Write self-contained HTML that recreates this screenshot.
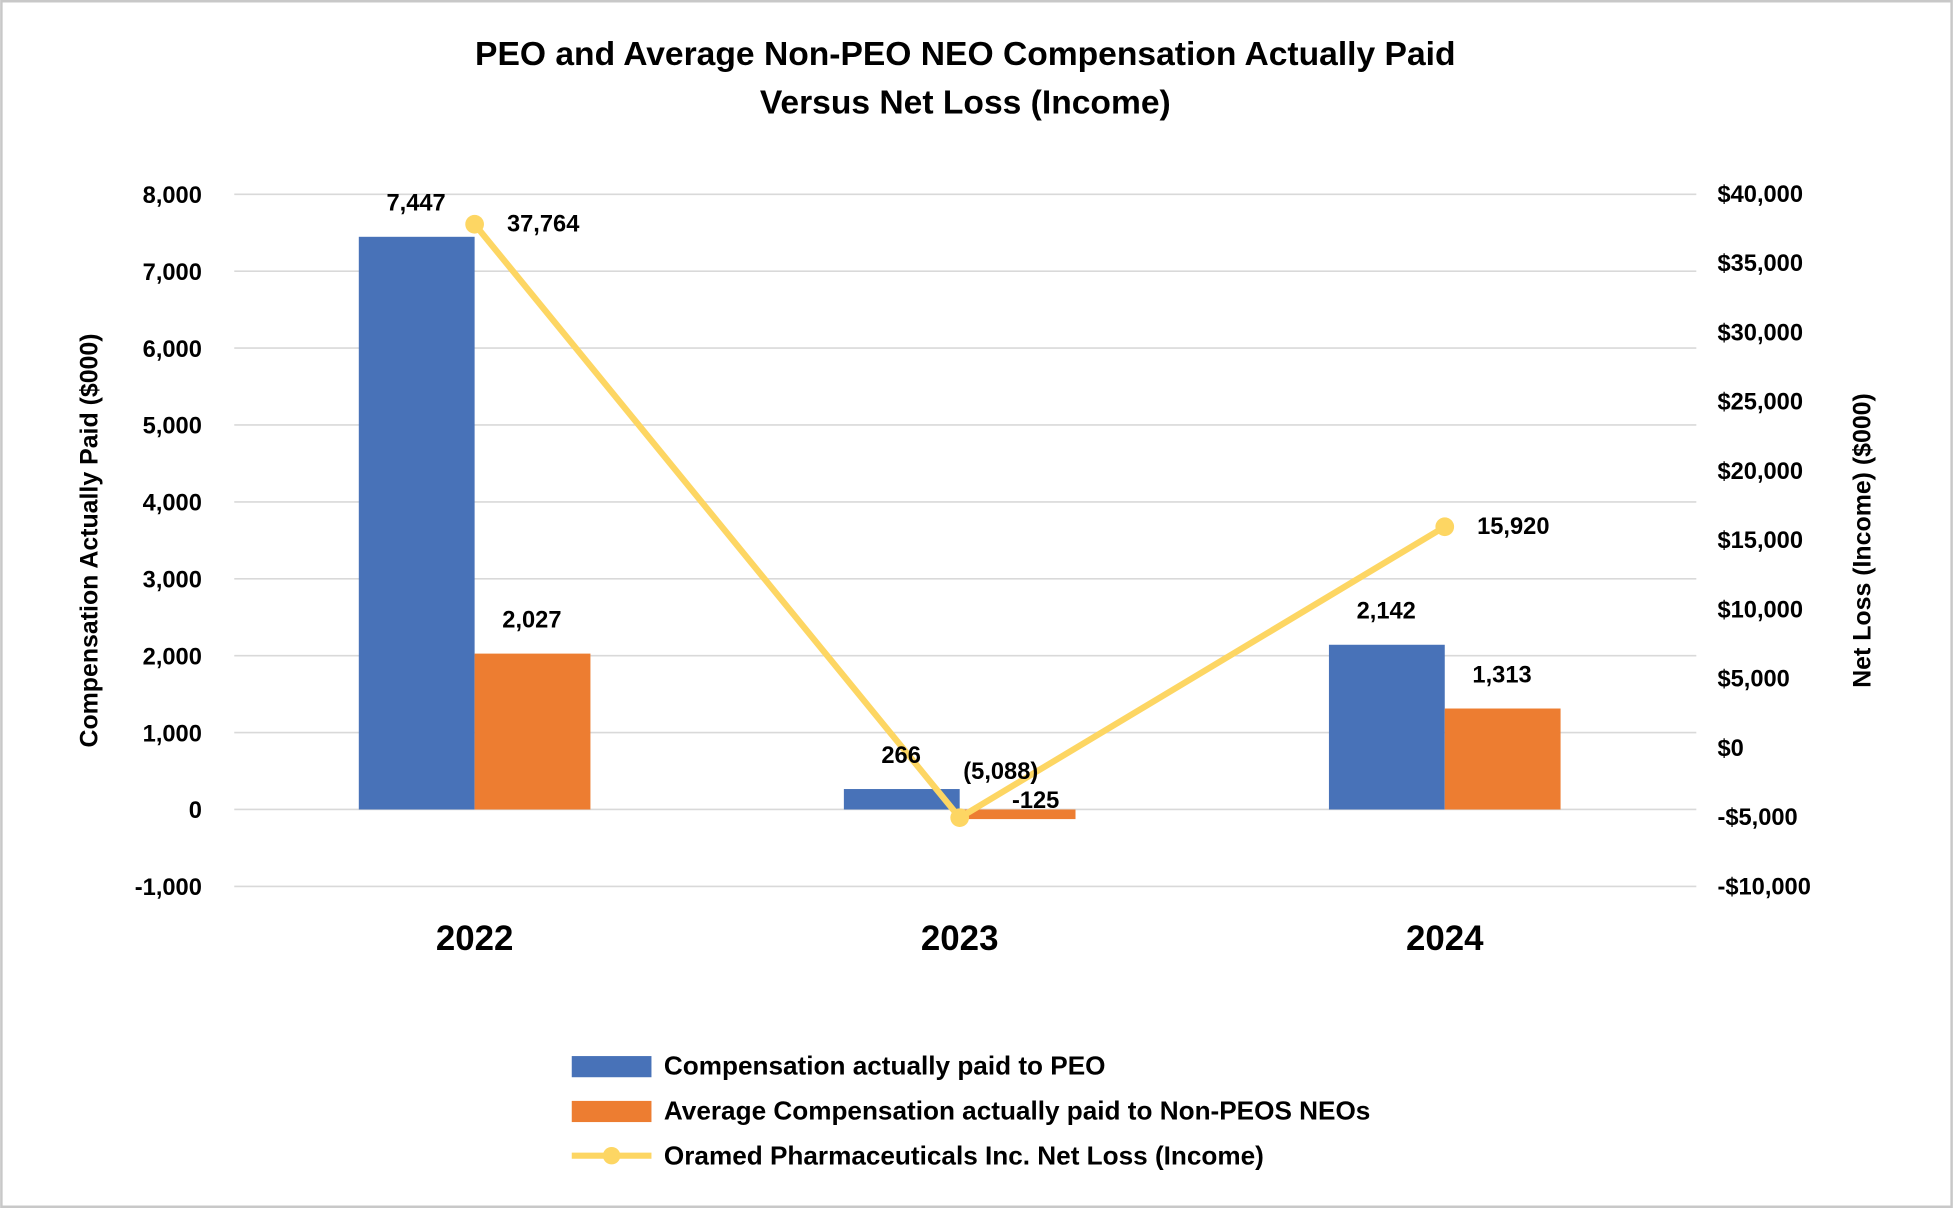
<!DOCTYPE html>
<html><head><meta charset="utf-8"><style>
html,body{margin:0;padding:0;background:#fff}
svg{display:block}
text{font-family:"Liberation Sans",sans-serif;fill:#000}
</style></head><body>
<svg width="1953" height="1208" viewBox="0 0 1568 970">
<rect x="1" y="1" width="1566" height="968" fill="#fff" stroke="#c8c8c8" stroke-width="2"/>
<text x="775" y="52" text-anchor="middle" font-size="27" font-weight="bold">PEO and Average Non-PEO NEO Compensation Actually Paid</text>
<text x="775" y="91" text-anchor="middle" font-size="27" font-weight="bold">Versus Net Loss (Income)</text>
<g id="grid"></g>
<g id="bars"></g>
<g id="line"></g>
<g id="labels"></g>
<text transform="translate(78,434) rotate(-90)" text-anchor="middle" font-size="20" font-weight="bold">Compensation Actually Paid ($000)</text>
<text transform="translate(1502,434) rotate(-90)" text-anchor="middle" font-size="20" font-weight="bold">Net Loss (Income) ($000)</text>
<g>
<rect x="459" y="848" width="64" height="17" fill="#4872B8"/>
<text x="533" y="863" font-size="21" font-weight="bold">Compensation actually paid to PEO</text>
<rect x="459" y="884" width="64" height="17" fill="#ED7D31"/>
<text x="533" y="899" font-size="21" font-weight="bold">Average Compensation actually paid to Non-PEOS NEOs</text>
<line x1="459" y1="928" x2="523" y2="928" stroke="#FDD663" stroke-width="5"/>
<circle cx="491" cy="928" r="7" fill="#FDD663"/>
<text x="533" y="935" font-size="21" font-weight="bold">Oramed Pharmaceuticals Inc. Net Loss (Income)</text>
</g>
</svg>
<script>
const categories=["2022","2023","2024"];
const peoValues=[7447,266,2142];
const neoValues=[2027,-125,1313];
const netLoss=[37764,-5088,15920];
const netLossLabels=["37,764","(5,088)","15,920"];
const leftTicks=[-1000,0,1000,2000,3000,4000,5000,6000,7000,8000];
const rightTicks=[-10000,-5000,0,5000,10000,15000,20000,25000,30000,35000,40000];
const NS="http://www.w3.org/2000/svg";
const yL=v=>650-v*(494/8000);
const yR=v=>600-v*(55.6/5000);
const xC=i=>381+i*389.5;
const fmt=v=>(v<0?"-":"")+Math.abs(v).toLocaleString("en-US");
const fmtD=v=>(v<0?"-$":"$")+Math.abs(v).toLocaleString("en-US");
function mk(tag,attrs,parent,txt){const e=document.createElementNS(NS,tag);for(const k in attrs)e.setAttribute(k,attrs[k]);if(txt!==undefined)e.textContent=txt;document.getElementById(parent).appendChild(e);return e;}
leftTicks.forEach(v=>{
 const l=mk("line",{x1:188,x2:1362,y1:yL(v),y2:yL(v),stroke:"#d9d9d9","stroke-width":1.3},"grid");
 
 
 const t=mk("text",{x:162,y:yL(v)+7,"text-anchor":"end","font-size":19,"font-weight":"bold"},"grid",fmt(v));
 
 
});
rightTicks.forEach(v=>{
 const t=mk("text",{x:1379,y:yR(v)+7,"font-size":19,"font-weight":"bold"},"grid",fmtD(v));
 
 
});
const bw=93;
categories.forEach((c,i)=>{
 const x=xC(i);
 const b1=mk("rect",{x:x-bw,y:Math.min(yL(peoValues[i]),yL(0)),width:bw,height:Math.abs(yL(peoValues[i])-yL(0)),fill:"#4872B8"},"bars");
 
 
 const b2=mk("rect",{x:x,y:Math.min(yL(neoValues[i]),yL(0)),width:bw,height:Math.abs(yL(neoValues[i])-yL(0)),fill:"#ED7D31"},"bars");
 
 
 const xt=mk("text",{x:x,y:763,"text-anchor":"middle","font-size":28,"font-weight":"bold"},"labels",c);
 
 
 const t1=mk("text",{x:x-47,y:yL(Math.max(peoValues[i],0))-21,"text-anchor":"middle","font-size":19,"font-weight":"bold"},"labels",fmt(peoValues[i]));
 
 
 let ny=neoValues[i]<0?yL(neoValues[i])-9:yL(neoValues[i])-21;
 let nx=neoValues[i]<0?x+61:x+46;
 const t2=mk("text",{x:nx,y:ny,"text-anchor":"middle","font-size":19,"font-weight":"bold"},"labels",fmt(neoValues[i]));
 
 
});
const pts=netLoss.map((v,i)=>xC(i)+","+yR(v)).join(" ");
const pl=mk("polyline",{points:pts,fill:"none",stroke:"#FDD663","stroke-width":5,"stroke-linejoin":"round"},"line");


netLoss.forEach((v,i)=>{
 const c=mk("circle",{cx:xC(i),cy:yR(v),r:7.5,fill:"#FDD663"},"line");
 
 
 const t=mk("text",{x:xC(i)+(v<0?33:26),y:yR(v)+(v<0?-31:6),"text-anchor":v<0?"middle":"start","font-size":19,"font-weight":"bold"},"labels",netLossLabels[i]);
 
 
});
</script>
</body></html>
